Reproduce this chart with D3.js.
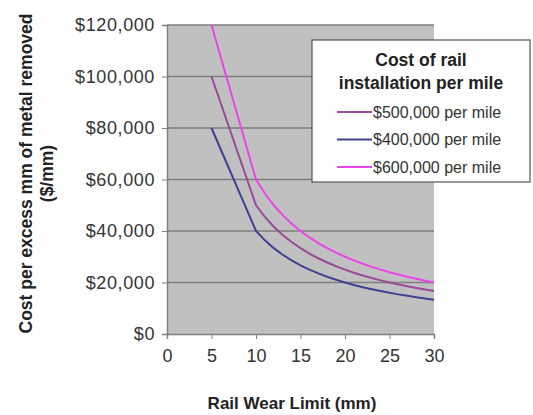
<!DOCTYPE html>
<html>
<head>
<meta charset="utf-8">
<script src="https://cdn.jsdelivr.net/npm/d3@7"></script>
<style>
  body { margin: 0; background: #fff; }
  text { font-family: Arial, "Liberation Sans", sans-serif; }
</style>
</head>
<body>
<svg id="chart"></svg>
<script>
// Rail wear limit (mm)
const wearLimit = [5, 10, 11, 12, 13, 14, 15, 16, 17, 18, 19, 20, 21, 22, 23, 24, 25, 26, 27, 28, 29, 30];

// Cost per excess mm of metal removed ($/mm)
const cost500k = [100000, 50000, 45455, 41667, 38462, 35714, 33333, 31250, 29412, 27778, 26316, 25000,
  23810, 22727, 21739, 20833, 20000, 19231, 18519, 17857, 17241, 16667];
const cost400k = [80000, 40000, 36364, 33333, 30769, 28571, 26667, 25000, 23529, 22222, 21053, 20000,
  19048, 18182, 17391, 16667, 16000, 15385, 14815, 14286, 13793, 13333];
const cost600k = [120000, 60000, 54545, 50000, 46154, 42857, 40000, 37500, 35294, 33333, 31579, 30000,
  28571, 27273, 26087, 25000, 24000, 23077, 22222, 21429, 20690, 20000];

const seriesNames = ["$500,000 per mile", "$400,000 per mile", "$600,000 per mile"];
const seriesColors = ["#9a4a98", "#41418f", "#ea45e6"];
const xTicks = [0, 5, 10, 15, 20, 25, 30];
const yTicks = [0, 20000, 40000, 60000, 80000, 100000, 120000];

let series = [cost500k, cost400k, cost600k].map((vals, i) => ({
  name: seriesNames[i],
  color: seriesColors[i],
  values: vals.map((v, j) => ({ x: wearLimit[j], y: v })),
}));

let margin = { top: 25, right: 99, bottom: 81, left: 167 };
let width = 533 - margin.left - margin.right,
  height = 415 - margin.top - margin.bottom;

let svg = d3.select("#chart").attr("width", 533).attr("height", 415);
let g = svg.append("g").attr("transform", `translate(${margin.left},${margin.top})`);

let x = d3.scaleLinear().domain([0, 30]).range([0, width]);
let y = d3.scaleLinear().domain([0, 120000]).range([height, 0]);

// Plot area
g.append("rect")
  .attr("width", width)
  .attr("height", height)
  .attr("fill", "#c0c0c0");

// Gridlines
g.selectAll(".grid")
  .data(yTicks.slice(1))
  .enter()
  .append("line")
  .attr("x1", 0)
  .attr("x2", width)
  .attr("y1", (d) => y(d))
  .attr("y2", (d) => y(d))
  .attr("stroke", "#7e7e7e")
  .attr("stroke-width", 1.5);

// Axes
let yAxis = g.append("g")
  .call(d3.axisLeft(y).tickValues(yTicks).tickSize(5).tickPadding(7).tickFormat((d) => "$" + d3.format(",")(d)));
let xAxis = g.append("g")
  .attr("transform", `translate(0,${height})`)
  .call(d3.axisBottom(x).tickValues(xTicks).tickSize(5).tickPadding(10));

[yAxis, xAxis].forEach((a) => {
  a.select(".domain").attr("stroke", "#808080").attr("stroke-width", 1.5);
  a.selectAll(".tick line").attr("stroke", "#808080");
  a.selectAll(".tick text").attr("fill", "#333").style("font-size", "18px");
});
yAxis.selectAll(".tick text").style("letter-spacing", "0.6px");

// Lines
let line = d3.line().x((d) => x(d.x)).y((d) => y(d.y));
g.selectAll(".series")
  .data(series)
  .enter()
  .append("path")
  .attr("d", (d) => line(d.values))
  .attr("fill", "none")
  .attr("stroke", (d) => d.color)
  .attr("stroke-width", 2);

// Y-Axis Label
let yLabel = svg.append("text")
  .attr("transform", "translate(26," + (margin.top + height / 2 - 6) + ") rotate(-90)")
  .attr("text-anchor", "middle")
  .style("font-size", "17.5px")
  .style("font-weight", "bold")
  .attr("fill", "#222");
yLabel.append("tspan").attr("x", 0).attr("dy", "0.35em").text("Cost per excess mm of metal removed");
yLabel.append("tspan").attr("x", 0).attr("dy", "21").text("($/mm)");

// X-Axis Label
svg.append("text")
  .attr("x", 292)
  .attr("y", 403)
  .attr("dy", "0.35em")
  .attr("text-anchor", "middle")
  .style("font-size", "17px")
  .style("font-weight", "bold")
  .attr("fill", "#222")
  .text("Rail Wear Limit (mm)");

// Legend
let legend = svg.append("g").attr("transform", "translate(312,40)");
legend.append("rect")
  .attr("width", 218)
  .attr("height", 142)
  .attr("fill", "#fff")
  .attr("stroke", "#555")
  .attr("stroke-width", 1.2);

legend.selectAll(".title")
  .data(["Cost of rail", "installation per mile"])
  .enter()
  .append("text")
  .attr("x", 109)
  .attr("y", (d, i) => 20 + i * 23)
  .attr("dy", "0.35em")
  .attr("text-anchor", "middle")
  .style("font-size", "17.5px")
  .style("font-weight", "bold")
  .attr("fill", "#222")
  .text((d) => d);

let item = legend.selectAll(".item")
  .data(series)
  .enter()
  .append("g")
  .attr("transform", (d, i) => `translate(0,${72 + i * 27.5})`);

item.append("line")
  .attr("x1", 25)
  .attr("x2", 60)
  .attr("stroke", (d) => d.color)
  .attr("stroke-width", 2);

item.append("text")
  .attr("x", 61)
  .attr("dy", "0.35em")
  .style("font-size", "16px")
  .attr("fill", "#333")
  .text((d) => d.name);
</script>
</body>
</html>
